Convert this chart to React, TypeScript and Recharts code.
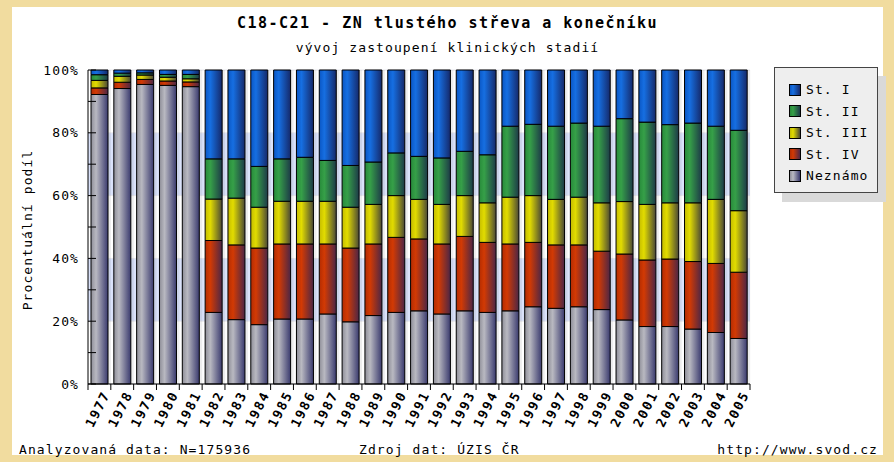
import React from "react";
import { BarChart, Bar, XAxis, YAxis, CartesianGrid } from "recharts";

const years = [
  "1977", "1978", "1979", "1980", "1981", "1982", "1983", "1984", "1985", "1986",
  "1987", "1988", "1989", "1990", "1991", "1992", "1993", "1994", "1995", "1996",
  "1997", "1998", "1999", "2000", "2001", "2002", "2003", "2004", "2005",
];

// podíl v %
const neznamo = [92.2, 94.1, 95.4, 95.1, 94.7, 22.8, 20.5, 18.9, 20.7, 20.7, 22.3, 19.8, 21.8, 22.8, 23.3, 22.3, 23.3, 22.8, 23.3, 24.6, 24.1, 24.6, 23.7, 20.4, 18.3, 18.3, 17.5, 16.4, 14.5];
const stIV = [2.1, 2.0, 1.6, 1.4, 1.5, 22.9, 23.8, 24.4, 23.9, 23.9, 22.3, 23.5, 22.8, 23.9, 22.9, 22.3, 23.7, 22.3, 21.3, 20.5, 20.2, 19.7, 18.6, 21.0, 21.2, 21.5, 21.5, 22.0, 21.1];
const stIII = [2.4, 1.9, 1.4, 1.2, 1.0, 13.2, 14.9, 13.0, 13.6, 13.6, 13.6, 13.0, 12.6, 13.3, 12.6, 12.6, 13.0, 12.6, 14.9, 14.9, 14.5, 15.2, 15.4, 16.7, 17.7, 17.9, 18.7, 20.4, 19.6];
const stII = [1.8, 1.0, 0.7, 0.9, 1.4, 12.8, 12.5, 13.0, 13.5, 14.0, 13.0, 13.3, 13.5, 13.6, 13.7, 14.8, 14.1, 15.3, 22.6, 22.7, 23.3, 23.6, 24.4, 26.4, 26.2, 24.9, 25.4, 23.3, 25.6];
const stI = [1.5, 1.0, 0.9, 1.4, 1.4, 28.3, 28.3, 30.7, 28.3, 27.8, 28.8, 30.4, 29.3, 26.4, 27.5, 28.0, 25.9, 27.0, 17.9, 17.3, 17.9, 16.9, 17.9, 15.5, 16.6, 17.4, 16.9, 17.9, 19.2];

const yTicks = [0, 10, 20, 30, 40, 50, 60, 70, 80, 90, 100];
const gridValues = [0, 20, 40, 60, 80, 100];

const data = years.map((year, i) => ({
  year,
  neznamo: neznamo[i],
  stIV: stIV[i],
  stIII: stIII[i],
  stII: stII[i],
  stI: stI[i],
}));

// bottom-up stacking order
const series = [
  { key: "neznamo", name: "Neznámo", stops: ["#8e8e98", "#b9b9c1", "#3a3a6e"] },
  { key: "stIV", name: "St. IV", stops: ["#b32c02", "#d23a04", "#4c2646"] },
  { key: "stIII", name: "St. III", stops: ["#c4bc00", "#e2dc00", "#4a4836"] },
  { key: "stII", name: "St. II", stops: ["#278a3a", "#36a048", "#1d3a48"] },
  { key: "stI", name: "St. I", stops: ["#0a56c4", "#166fe2", "#15296a"] },
];

const CHART_W = 894;
const CHART_H = 462;
const PLOT_LEFT = 88;
const PLOT_RIGHT = 750;
const band = (PLOT_RIGHT - PLOT_LEFT) / years.length;

const mono = '"DejaVu Sans Mono", "Liberation Mono", monospace';
const textStyle: React.CSSProperties = {
  fontFamily: mono,
  fontSize: 13,
  letterSpacing: 1.1,
  color: "#000",
  whiteSpace: "nowrap",
};

const YearTick = (props: any) => {
  const { x, y, payload, index } = props;
  return (
    <g>
      <line x1={x - band / 2} x2={x - band / 2} y1={y} y2={y + 6} stroke="#000" />
      {index === years.length - 1 && (
        <line x1={x + band / 2} x2={x + band / 2} y1={y} y2={y + 6} stroke="#000" />
      )}
      <text
        transform={`translate(${x + 11},${y + 10}) rotate(-63)`}
        textAnchor="end"
        fontFamily={mono}
        fontSize={13}
        fontWeight="bold"
        letterSpacing={1.8}
        fill="#000"
      >
        {payload.value}
      </text>
    </g>
  );
};

const PctTick = (props: any) => {
  const { x, y, payload } = props;
  const v = payload.value;
  return (
    <g>
      <line x1={x} x2={x + 8} y1={y} y2={y} stroke="#000" />
      {v % 20 === 0 && (
        <text x={x - 9} y={y} dy={4.5} textAnchor="end" fontFamily={mono} fontSize={13} letterSpacing={1.1} fill="#000">
          {v}%
        </text>
      )}
    </g>
  );
};

const BarShadow = (props: any) => {
  const { x, y, width, height } = props;
  return <rect x={x + 3} y={y} width={width} height={height} fill="#000" fillOpacity={0.07} />;
};

const gradientCss = (stops: string[]) =>
  `linear-gradient(to right, ${stops[0]} 0%, ${stops[1]} 30%, ${stops[2]} 100%)`;

export default function App() {
  return (
    <div style={{ position: "absolute", left: 0, top: 0, width: CHART_W, height: CHART_H, background: "#f1dc9f" }}>
      <div style={{ position: "absolute", left: 12, top: 7, width: 871, height: 448, background: "#fff", overflow: "hidden" }} />

      <div style={{ position: "absolute", left: 0, top: 0 }}>
        <BarChart
          width={CHART_W}
          height={CHART_H}
          data={data}
          margin={{ top: 70, right: CHART_W - PLOT_RIGHT, bottom: 28, left: PLOT_LEFT - 60 }}
          barSize={17}
        >
          <defs>
            {series.map((s) => (
              <linearGradient key={s.key} id={`grad-${s.key}`} x1="0" y1="0" x2="1" y2="0">
                <stop offset="0%" stopColor={s.stops[0]} />
                <stop offset="30%" stopColor={s.stops[1]} />
                <stop offset="100%" stopColor={s.stops[2]} />
              </linearGradient>
            ))}
          </defs>
          <CartesianGrid
            vertical={false}
            horizontalValues={gridValues}
            horizontalFill={["#ffffff", "#dae2fa"]}
            fillOpacity={1}
            stroke="#e8e8ee"
          />
          <XAxis
            dataKey="year"
            interval={0}
            height={50}
            tickSize={0}
            tickMargin={0}
            tickLine={false}
            axisLine={{ stroke: "#000" }}
            tick={<YearTick />}
          />
          <YAxis
            width={60}
            domain={[0, 100]}
            ticks={yTicks}
            interval={0}
            tickSize={0}
            tickMargin={0}
            tickLine={false}
            axisLine={{ stroke: "#000" }}
            tick={<PctTick />}
          />
          {series.map((s, i) => (
            <Bar
              key={s.key}
              dataKey={s.key}
              name={s.name}
              stackId="a"
              fill={`url(#grad-${s.key})`}
              stroke="#000"
              strokeWidth={1}
              isAnimationActive={false}
              background={i === 0 ? <BarShadow /> : undefined}
            />
          ))}
        </BarChart>
      </div>

      <div style={{ ...textStyle, position: "absolute", left: 12, width: 871, top: 14, textAlign: "center", fontSize: 15, fontWeight: "bold", letterSpacing: 1.5 }}>
        C18-C21 - ZN tlustého střeva a konečníku
      </div>
      <div style={{ ...textStyle, position: "absolute", left: 12, width: 871, top: 40, textAlign: "center" }}>
        vývoj zastoupení klinických stadií
      </div>
      <div
        style={{
          ...textStyle,
          position: "absolute",
          left: 27,
          top: 230,
          transform: "translate(-50%, -50%) rotate(-90deg)",
        }}
      >
        Procentuální podíl
      </div>

      <div
        style={{
          position: "absolute",
          left: 774,
          top: 67,
          width: 102,
          height: 124,
          background: "#eeeeee",
          border: "1px solid #444",
          boxShadow: "8px 9px 0 #d9d9d9",
        }}
      >
        {[...series].reverse().map((s, i) => (
          <div key={s.key} style={{ position: "absolute", left: 14, top: 14 + i * 21.5, display: "flex", alignItems: "center" }}>
            <span
              style={{
                display: "inline-block",
                width: 10,
                height: 10,
                border: "1px solid #000",
                background: gradientCss(s.stops),
              }}
            />
            <span style={{ ...textStyle, marginLeft: 5 }}>{s.name}</span>
          </div>
        ))}
      </div>

      <div style={{ ...textStyle, position: "absolute", left: 19, top: 442 }}>Analyzovaná data: N=175936</div>
      <div style={{ ...textStyle, position: "absolute", left: 359, top: 442 }}>Zdroj dat: ÚZIS ČR</div>
      <div style={{ ...textStyle, position: "absolute", right: 894 - 878, top: 442 }}>http://www.svod.cz</div>
    </div>
  );
}
